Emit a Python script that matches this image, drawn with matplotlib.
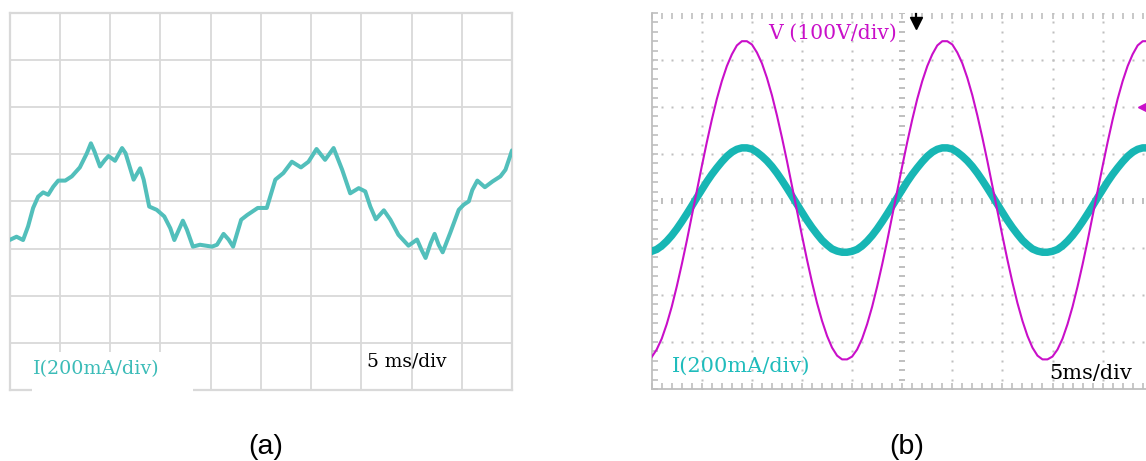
import numpy as np
import matplotlib
matplotlib.use("Agg")
import matplotlib.pyplot as plt
from matplotlib.patches import Rectangle

# ---------------- data ----------------
# (a) current waveform: time (ms), current (mA); scale 5 ms/div, 200 mA/div
a_time_ms = [0.0, 0.2, 0.7, 1.35, 1.85, 2.35, 2.85, 3.35, 3.85, 4.35, 4.85, 5.55, 6.2, 7.0,
             7.7, 8.1, 8.45, 9.0, 9.5, 9.85, 10.5, 11.2, 11.55, 12.35, 13.0, 13.35, 13.9,
             14.65, 15.4, 16.0, 16.4, 17.25, 17.65, 18.25, 18.95, 20.15, 20.65, 21.3, 21.8,
             22.25, 23.05, 23.65, 24.7, 25.6, 26.45, 27.25, 28.1, 29.0, 29.75, 30.55, 31.4,
             32.25, 33.1, 33.9, 34.75, 35.4, 35.9, 36.45, 37.25, 37.9, 38.7, 39.7, 40.55,
             41.0, 41.4, 41.9, 42.3, 42.7, 43.1, 43.85, 44.7, 45.2, 45.7, 46.05, 46.55, 47.3,
             48.05, 48.85, 49.35, 49.75, 50.0]
a_current_ma = [-164, -160, -150, -164, -106, -28, 20, 38, 28, 62, 88, 88, 106, 144,
                204, 246, 212, 148, 176, 192, 172, 226, 204, 92, 140, 92, -22,
                -36, -64, -114, -164, -82, -120, -192, -184, -192, -184, -138, -162,
                -192, -78, -58, -28, -28, 92, 120, 168, 144, 168, 222, 176,
                226, 134, 34, 56, 42, -22, -76, -38, -78, -142, -188, -162,
                -206, -240, -178, -138, -184, -216, -134, -36, -14, 0, 48, 88, 60,
                84, 106, 134, 184, 216]

# (b) grid voltage and current: time (ms) every 0.5 ms; 5 ms/div, 100 V/div, 200 mA/div
b_time_ms = [0.5 * k for k in range(101)]
b_voltage_v = [-332, -316, -293, -262, -225, -182, -135, -85, -32, 21,
               74, 125, 173, 217, 255, 287, 312, 331, 340, 340,
               333, 316, 293, 262, 225, 182, 135, 85, 32, -21,
               -74, -125, -173, -217, -255, -287, -312, -329, -337, -337,
               -331, -316, -293, -262, -225, -182, -135, -85, -32, 21,
               74, 125, 173, 217, 255, 287, 312, 331, 340, 340,
               333, 316, 293, 262, 225, 182, 135, 85, 32, -21,
               -74, -125, -173, -217, -255, -287, -312, -329, -337, -337,
               -331, -316, -293, -262, -225, -182, -135, -85, -32, 21,
               74, 125, 173, 217, 255, 287, 312, 331, 340, 340, 333]
b_current_ma = [-214, -206, -191, -171, -147, -119, -88, -55, -21, 14,
                48, 82, 113, 141, 167, 190, 208, 220, 226, 226,
                221, 208, 191, 171, 147, 119, 88, 55, 21, -14,
                -48, -82, -113, -141, -167, -187, -204, -213, -218, -218,
                -214, -206, -191, -171, -147, -119, -88, -55, -21, 14,
                48, 82, 113, 141, 167, 190, 208, 220, 226, 226,
                221, 208, 191, 171, 147, 119, 88, 55, 21, -14,
                -48, -82, -113, -141, -167, -187, -204, -213, -218, -218,
                -214, -206, -191, -171, -147, -119, -88, -55, -21, 14,
                48, 82, 113, 141, 167, 190, 208, 220, 226, 226, 221]

MS_PER_DIV = 5.0
V_PER_DIV = 100.0
MA_PER_DIV = 200.0
Y_CENTER = 4.0

panel_a_label = "I(200mA/div)"
panel_a_time = "5 ms/div"
panel_b_volt = "V (100V/div)"
panel_b_cur = "I(200mA/div)"
panel_b_time = "5ms/div"

# ---------------- figure ----------------
W, H = 1146, 461
fig = plt.figure(figsize=(W / 100, H / 100), dpi=100)
fig.patch.set_facecolor("white")

def box(x0, y0, x1, y1):
    return [x0 / W, 1 - y1 / H, (x1 - x0) / W, (y1 - y0) / H]

SERIF = ["DejaVu Serif"]
TEAL_A = "#52bfbb"
TEAL_B = "#17b6b4"
MAGENTA = "#c90fc9"
GRID_A = "#d9d9d9"
GRID_B = "#bfbfbf"

# ---------- panel (a) ----------
axa = fig.add_axes(box(9.5, 12.7, 512, 390))
axa.set_xlim(0, 10)
axa.set_ylim(0, 8)
axa.set_xticks(range(11))
axa.set_yticks(range(9))
axa.tick_params(length=0, labelbottom=False, labelleft=False)
axa.grid(True, color=GRID_A, lw=1.3)
axa.set_axisbelow(True)
for s in axa.spines.values():
    s.set_color(GRID_A)
    s.set_linewidth(1.6)

xa = np.array(a_time_ms) / MS_PER_DIV
ya = Y_CENTER + np.array(a_current_ma) / MA_PER_DIV
axa.plot(xa, ya, color=TEAL_A, lw=2.9, solid_joinstyle="round",
         solid_capstyle="round", zorder=4)

axa.add_patch(Rectangle((0.44, -0.2), 3.21, 1.0, facecolor="white",
                        edgecolor="none", zorder=3, clip_on=False))
axa.text(0.46, 0.445, panel_a_label, color="#3cbcb8", fontsize=13.8,
         family=SERIF, va="center", ha="left", zorder=5)
axa.text(7.12, 0.61, panel_a_time, color="black", fontsize=13.4,
         family=SERIF, va="center", ha="left", zorder=5)

# ---------- panel (b) ----------
axb = fig.add_axes(box(651.7, 13, 1152.7, 389))
axb.set_xlim(0, 10)
axb.set_ylim(0, 8)
axb.set_xticks(range(11))
axb.set_yticks(range(9))
axb.set_xticks(np.arange(0, 10.01, 0.2), minor=True)
axb.set_yticks(np.arange(0, 8.01, 0.2), minor=True)
axb.tick_params(which="both", direction="in", length=4.5, width=1.2, color=GRID_B,
                top=True, labelbottom=False, labelleft=False)
for side in ("top", "right"):
    axb.spines[side].set_visible(False)
for side in ("left", "bottom"):
    axb.spines[side].set_color(GRID_B)
    axb.spines[side].set_linewidth(1.3)

# dotted graticule
fine_x = np.arange(0, 10.01, 0.2)
fine_y = np.arange(0, 8.01, 0.2)
for gx in range(1, 10):
    if gx == 5:
        continue
    axb.plot(np.full_like(fine_y, gx), fine_y, ls="none", marker="s", ms=1.5,
             mec="none", mfc=GRID_B, zorder=1)
for gy in range(1, 8):
    if gy == 4:
        continue
    axb.plot(fine_x, np.full_like(fine_x, gy), ls="none", marker="s", ms=1.5,
             mec="none", mfc=GRID_B, zorder=1)
# centre axes with tick dashes
axb.plot(fine_x, np.full_like(fine_x, 4), ls="none", marker="|", ms=5, mew=1.4,
         color=GRID_B, zorder=1)
axb.plot(np.full_like(fine_y, 5), fine_y, ls="none", marker="_", ms=5, mew=1.4,
         color=GRID_B, zorder=1)

xb = np.array(b_time_ms) / MS_PER_DIV
axb.plot(xb, Y_CENTER + np.array(b_current_ma) / MA_PER_DIV, color=TEAL_B, lw=5.4,
         solid_joinstyle="round", zorder=3)
axb.plot(xb, Y_CENTER + np.array(b_voltage_v) / V_PER_DIV, color=MAGENTA, lw=1.5,
         zorder=4)

# markers: trigger arrow and channel reference
axb.plot([5.28, 5.28], [7.98, 7.82], color="black", lw=1.6, clip_on=False, zorder=6)
axb.plot([5.28], [7.79], marker="v", ms=8, color="black", clip_on=False, zorder=6)
axb.plot([9.84], [5.99], marker="<", ms=10, color=MAGENTA, clip_on=False, zorder=6)

axb.text(2.32, 7.57, panel_b_volt, color=MAGENTA, fontsize=14.6, family=SERIF,
         va="center", ha="left", zorder=5)
axb.text(0.40, 0.475, panel_b_cur, color="#1fbcbc", fontsize=15, family=SERIF,
         va="center", ha="left", zorder=5)
axb.text(7.93, 0.34, panel_b_time, color="black", fontsize=15, family=SERIF,
         va="center", ha="left", zorder=5)

# sub-figure labels
fig.text(265.5 / W, 1 - 447 / H, "(a)", fontsize=20.5, family=["Liberation Sans"],
         ha="center", va="center")
fig.text(907 / W, 1 - 447 / H, "(b)", fontsize=20.5, family=["Liberation Sans"],
         ha="center", va="center")

fig.savefig("out.png", dpi=100, facecolor="white")
